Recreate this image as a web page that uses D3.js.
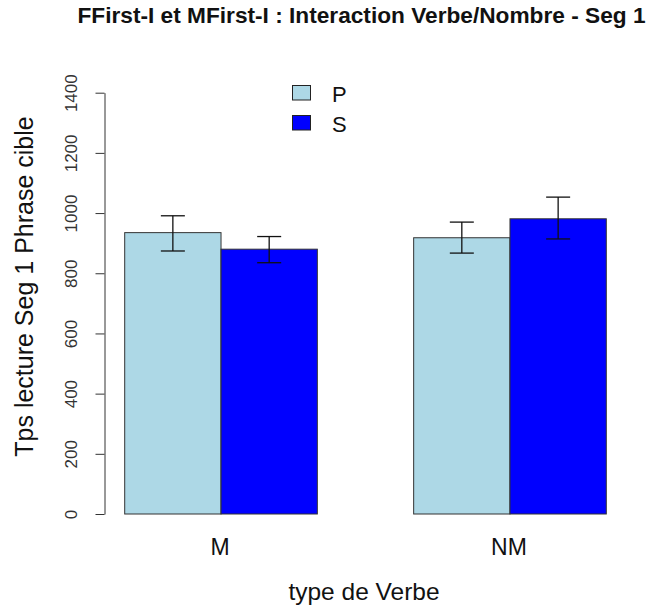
<!DOCTYPE html>
<html>
<head>
<meta charset="utf-8">
<script src="https://cdn.jsdelivr.net/npm/d3@7"></script>
<style>
  body { margin: 0; background: #fff; }
  text { font-family: "Liberation Sans", Arial, sans-serif; }
</style>
</head>
<body>
<svg id="chart"></svg>
<script>
const WIDTH = 650;
const HEIGHT = 607;

// data
const verbTypes = ["M", "NM"];
const numbers = ["P", "S"];
const meanP = [935, 918];
const meanS = [880, 981];
const lowP = [874, 867];
const highP = [991, 970];
const lowS = [835, 914];
const highS = [922, 1053];
const yTicks = [0, 200, 400, 600, 800, 1000, 1200, 1400];

const colors = { P: "#add8e6", S: "#0000ff" };

const rows = verbTypes.flatMap((v, i) => [
  { verb: v, num: "P", mean: meanP[i], lo: lowP[i], hi: highP[i] },
  { verb: v, num: "S", mean: meanS[i], lo: lowS[i], hi: highS[i] },
]);

const svg = d3.select("#chart").attr("width", WIDTH).attr("height", HEIGHT);

const y = d3.scaleLinear().domain([0, 1400]).range([514, 92.7]);

// two groups of bars, one bar width of space between them (like barplot space)
const x0 = d3.scaleBand()
  .domain(verbTypes)
  .range([124.7, 606.3])
  .paddingInner(1 / 3)
  .paddingOuter(0);
const x1 = d3.scaleBand().domain(numbers).range([0, x0.bandwidth()]);

// bars
svg.append("g")
  .selectAll("rect")
  .data(rows)
  .join("rect")
  .attr("x", d => x0(d.verb) + x1(d.num))
  .attr("y", d => y(d.mean))
  .attr("width", x1.bandwidth())
  .attr("height", d => y(0) - y(d.mean))
  .attr("fill", d => colors[d.num])
  .attr("stroke", "#333")
  .attr("stroke-width", 1);

// error bars
const eb = svg.append("g").attr("stroke", "#111").attr("stroke-width", 1.3).attr("fill", "none");
rows.forEach(d => {
  const cx = x0(d.verb) + x1(d.num) + x1.bandwidth() / 2;
  eb.append("line").attr("x1", cx).attr("x2", cx).attr("y1", y(d.lo)).attr("y2", y(d.hi));
  eb.append("line").attr("x1", cx - 12).attr("x2", cx + 12).attr("y1", y(d.lo)).attr("y2", y(d.lo));
  eb.append("line").attr("x1", cx - 12).attr("x2", cx + 12).attr("y1", y(d.hi)).attr("y2", y(d.hi));
});

// y axis
const yAxis = svg.append("g")
  .attr("transform", "translate(104.5,0)")
  .call(d3.axisLeft(y).tickValues(yTicks).tickFormat(d3.format("d")).tickSize(9).tickSizeOuter(0));
yAxis.select(".domain").attr("stroke", "#333");
yAxis.selectAll(".tick line").attr("stroke", "#333");
yAxis.selectAll(".tick text")
  .attr("font-size", 17)
  .attr("fill", "#333")
  .attr("x", null)
  .attr("dy", null)
  .attr("text-anchor", "middle")
  .attr("transform", "translate(-27.5,0) rotate(-90)");

// category labels
svg.append("g")
  .selectAll("text")
  .data(verbTypes)
  .join("text")
  .attr("x", d => x0(d) + x0.bandwidth() / 2 - 1)
  .attr("y", 555)
  .attr("text-anchor", "middle")
  .attr("font-size", 23)
  .attr("fill", "#111")
  .text(d => d);

// axis titles
svg.append("text")
  .attr("x", 364)
  .attr("y", 600)
  .attr("text-anchor", "middle")
  .attr("font-size", 24.5)
  .attr("fill", "#111")
  .text("type de Verbe");

svg.append("text")
  .attr("transform", "translate(33,286.5) rotate(-90)")
  .attr("text-anchor", "middle")
  .attr("font-size", 25)
  .attr("fill", "#111")
  .text("Tps lecture Seg 1 Phrase cible");

// title
svg.append("text")
  .attr("x", 361.5)
  .attr("y", 23)
  .attr("text-anchor", "middle")
  .attr("font-size", 22)
  .attr("font-weight", "bold")
  .attr("fill", "#111")
  .attr("textLength", 568)
  .attr("lengthAdjust", "spacingAndGlyphs")
  .text("FFirst-I et MFirst-I : Interaction Verbe/Nombre - Seg 1");

// legend
const legend = svg.append("g")
  .selectAll("g")
  .data(numbers)
  .join("g")
  .attr("transform", (d, i) => `translate(292.5,${85.5 + i * 30})`);
legend.append("rect")
  .attr("width", 18)
  .attr("height", 14.5)
  .attr("fill", d => colors[d])
  .attr("stroke", "#222");
legend.append("text")
  .attr("x", 39.5)
  .attr("y", 16.2)
  .attr("font-size", 22)
  .attr("fill", "#111")
  .text(d => d);
</script>
</body>
</html>
